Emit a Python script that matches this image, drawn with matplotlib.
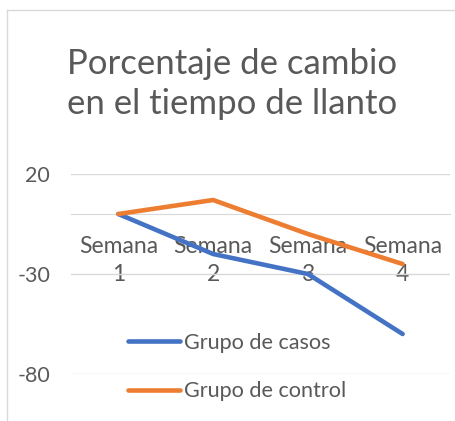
import matplotlib
matplotlib.use("Agg")
import matplotlib.pyplot as plt
from matplotlib.lines import Line2D

plt.rcParams['font.family'] = ['Lato', 'DejaVu Sans']

categories = ["Semana\n1", "Semana\n2", "Semana\n3", "Semana\n4"]
casos = [0, -20, -30, -60]
control = [0, 7, -10, -25]
yticks = [20, -30, -80]

W, H = 455, 421
fig = plt.figure(figsize=(W / 100, H / 100), dpi=100)
ax = fig.add_axes([71 / W, 1 - 374 / H, (450 - 71) / W, (374 - 174) / H])

x = list(range(len(categories)))
ax.plot(x, casos, color='#4472C4', lw=3.3, solid_capstyle='round', solid_joinstyle='round', label='Grupo de casos', zorder=3)
ax.plot(x, control, color='#ED7D31', lw=3.3, solid_capstyle='round', solid_joinstyle='round', label='Grupo de control', zorder=3)

ax.set_xlim(-0.5, len(categories) - 0.5)
ax.set_ylim(-80, 20)
ax.set_yticks(yticks)
ax.set_yticklabels([str(v) for v in yticks])
ax.grid(axis='y', color='#D9D9D9', lw=1)
ax.set_axisbelow(True)
for s in ['top', 'right', 'left']:
    ax.spines[s].set_visible(False)
ax.spines['bottom'].set_position(('data', 0))
ax.spines['bottom'].set_color('#D9D9D9')
ax.set_xticks(x)
ax.set_xticklabels(categories, linespacing=1.4)
ax.tick_params(axis='x', length=0, pad=16, labelsize=16.5, labelcolor='#595959')
ax.tick_params(axis='y', length=0, pad=15, labelsize=15.5, labelcolor='#595959')

fig.text(0.51, 1 - 84 / H, "Porcentaje de cambio\nen el tiempo de llanto", ha='center', va='center',
         fontsize=25, color='#595959', linespacing=1.3)

leg = fig.legend(loc='center left', bbox_to_anchor=(117 / W, 1 - 367 / H), frameon=False,
                 fontsize=15.6, labelcolor='#595959', handlelength=2.4, handletextpad=0.2,
                 labelspacing=1.3, borderpad=0)

fig.add_artist(Line2D([7 / W, 7 / W], [0, 1 - 10 / H], transform=fig.transFigure, color='#D9D9D9', lw=1))
fig.add_artist(Line2D([7 / W, 1], [1 - 10 / H, 1 - 10 / H], transform=fig.transFigure, color='#D9D9D9', lw=1))

fig.savefig('out.png', dpi=100)
